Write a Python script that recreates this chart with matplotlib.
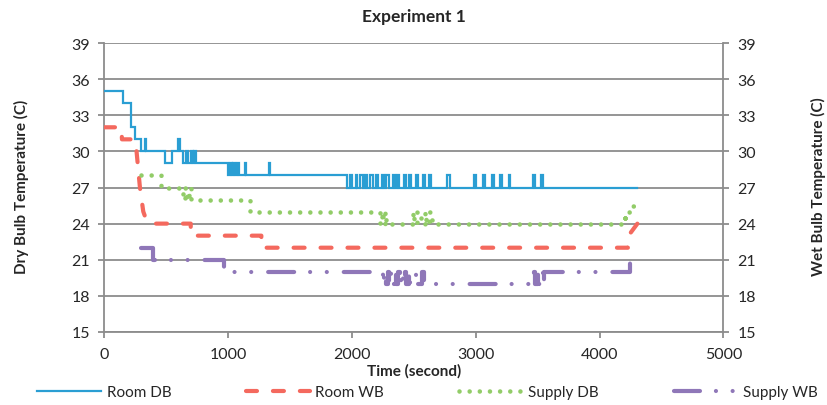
import matplotlib
matplotlib.use("Agg")
import matplotlib.pyplot as plt

plt.rcParams['font.family'] = ['Lato', 'DejaVu Sans']
plt.rcParams['lines.scale_dashes'] = False

# ---------------- data ----------------
# Room DB (step breakpoints, value holds until next time)
room_db_t = [0, 150, 218, 250, 300, 330, 342, 492, 545, 600, 612, 640, 660, 680, 700, 715, 730, 745,
             1000, 1015, 1030, 1045, 1060, 1075, 1090, 1135, 1150, 1330, 1342, 1960,
             1985, 2000, 2030, 2045, 2070, 2090, 2110, 2125, 2150, 2170, 2195, 2210, 2240, 2260,
             2280, 2300, 2330, 2345, 2365, 2380, 2420, 2435, 2460, 2480, 2520, 2535, 2575, 2590,
             2620, 2640, 2770, 2790, 2990, 3005, 3060, 3075, 3135, 3150, 3200, 3215, 3265, 3280,
             3460, 3475, 3525, 3540, 4300]
room_db_v = [35, 34, 32, 31, 30, 31, 30, 29, 30, 31, 30, 29, 30, 29, 30, 29, 30, 29,
             28, 29, 28, 29, 28, 29, 28, 29, 28, 29, 28, 27,
             28, 27, 28, 27, 28, 27, 28, 27, 28, 27, 28, 27, 28, 27,
             28, 27, 28, 27, 28, 27, 28, 27, 28, 27, 28, 27, 28, 27,
             28, 27, 28, 27, 28, 27, 28, 27, 28, 27, 28, 27, 28, 27,
             28, 27, 28, 27, 27]

# Room WB (polyline vertices)
room_wb_t = [0, 140, 145, 245, 260, 290, 317, 345, 385, 700, 700, 1270, 1270, 4228, 4233, 4305]
room_wb_v = [32, 32, 31, 31, 30.3, 27, 25, 24.2, 24, 24, 23, 23, 22, 22, 23, 24]

# Supply DB (step breakpoints)
supply_db_t = [300, 460, 640, 655, 670, 690, 700, 1180, 2230, 2245, 2255, 2270, 2280,
               2490, 2505, 2530, 2560, 2590, 2600, 2620, 2645, 4205, 4240, 4270, 4285, 4290]
supply_db_v = [28, 27, 26, 27, 26, 27, 26, 25, 24, 25, 24, 25, 24,
               25, 24, 25, 24, 25, 24, 25, 24, 24.5, 25, 25.5, 25.8, 25.8]

# Supply WB (step breakpoints)
supply_wb_t = [300, 395, 965, 2250, 2262, 2275, 2290, 2300, 2315, 2330, 2345, 2355, 2370, 2385,
               2400, 2410, 2430, 2440, 2460, 2470, 2520, 2530, 2570, 2580, 3470, 3480, 3500,
               3510, 3530, 3540, 3555, 4245, 4250]
supply_wb_v = [22, 21, 20, 19, 20, 19, 20, 19, 20, 19, 20, 19, 20, 19,
               20, 19, 20, 19, 20, 19, 20, 19, 20, 19, 20, 19, 20,
               19, 20, 19, 20, 21, 21]

series_names = ["Room DB", "Room WB", "Supply DB", "Supply WB"]
x_ticks = [0, 1000, 2000, 3000, 4000, 5000]
y_ticks = [15, 18, 21, 24, 27, 30, 33, 36, 39]

# ---------------- styling ----------------
c_db = '#2A9ED3'
c_wb = '#F4695E'
c_sdb = '#92CC68'
c_swb = '#8F77B8'
gray = '#8C8C8C'
txt = '#262626'

fig = plt.figure(figsize=(8.28, 4.06), dpi=100)
ax = fig.add_axes([104/828, 1-333/406, (723.5-104)/828, (333-44)/406])

ax.set_xlim(0, 5000)
ax.set_ylim(15, 39)
ax.set_xticks(x_ticks)
ax.set_yticks(y_ticks)
ax.yaxis.grid(True, color=gray, lw=1.3, zorder=0)
ax.set_axisbelow(True)
for s in ['top', 'right']:
    ax.spines[s].set_visible(False)
for s in ['left', 'bottom']:
    ax.spines[s].set_color(gray)
    ax.spines[s].set_linewidth(1.3)
ax.tick_params(axis='both', colors=gray, width=1.3, length=4, direction='out',
               labelcolor=txt, labelsize=11.5)
ax.tick_params(axis='x', pad=7)
ax.tick_params(axis='y', pad=6)

ax2 = ax.twinx()
ax2.set_ylim(15, 39)
ax2.set_yticks(y_ticks)
for s in ['top', 'left', 'bottom']:
    ax2.spines[s].set_visible(False)
ax2.spines['right'].set_color(gray)
ax2.spines['right'].set_linewidth(1.3)
ax2.tick_params(axis='y', colors=gray, width=1.3, length=4, direction='out',
                labelcolor=txt, labelsize=11.5, pad=6)

l1, = ax.plot(room_db_t, room_db_v, drawstyle='steps-post', color=c_db, lw=1.6,
              solid_joinstyle='miter', label=series_names[0], zorder=3)
l2, = ax.plot(room_wb_t, room_wb_v, color=c_wb, lw=3.0, dashes=(7.9, 11.5),
              dash_capstyle='round', dash_joinstyle='round', label=series_names[1], zorder=3)
l3, = ax.plot(supply_db_t, supply_db_v, drawstyle='steps-post', color=c_sdb, lw=3.3,
              dashes=(0.01, 7.3), dash_capstyle='round', label=series_names[2], zorder=3)
l4, = ax.plot(supply_wb_t, supply_wb_v, drawstyle='steps-post', color=c_swb, lw=3.0,
              dashes=(18.7, 11.5, 0.01, 12, 0.01, 12.2), dash_capstyle='round',
              dash_joinstyle='round', label=series_names[3], zorder=3)

fig.text(414/828, 1-17/406, "Experiment 1", ha='center', va='center',
         fontsize=12.5, fontweight='bold', color=txt)
fig.text(414/828, 1-371/406, "Time (second)", ha='center', va='center',
         fontsize=11, fontweight='bold', color=txt)
fig.text(21/828, 1-187/406, "Dry Bulb Temperature (C)", ha='center', va='center',
         rotation=90, fontsize=11, fontweight='bold', color=txt)
fig.text(818/828, 1-187/406, "Wet Bulb Temperature (C)", ha='center', va='center',
         rotation=90, fontsize=11, fontweight='bold', color=txt)

leg = fig.legend(handles=[l1, l2, l3, l4], labels=series_names, ncol=4,
                 loc='center', bbox_to_anchor=(37/828, 1-404/406, (818-37)/828, 22/406),
                 mode='expand', frameon=False, fontsize=11, handlelength=4.2,
                 handletextpad=0.35, borderpad=0, borderaxespad=0)
for t in leg.get_texts():
    t.set_color(txt)

fig.savefig("out.png", dpi=100)
